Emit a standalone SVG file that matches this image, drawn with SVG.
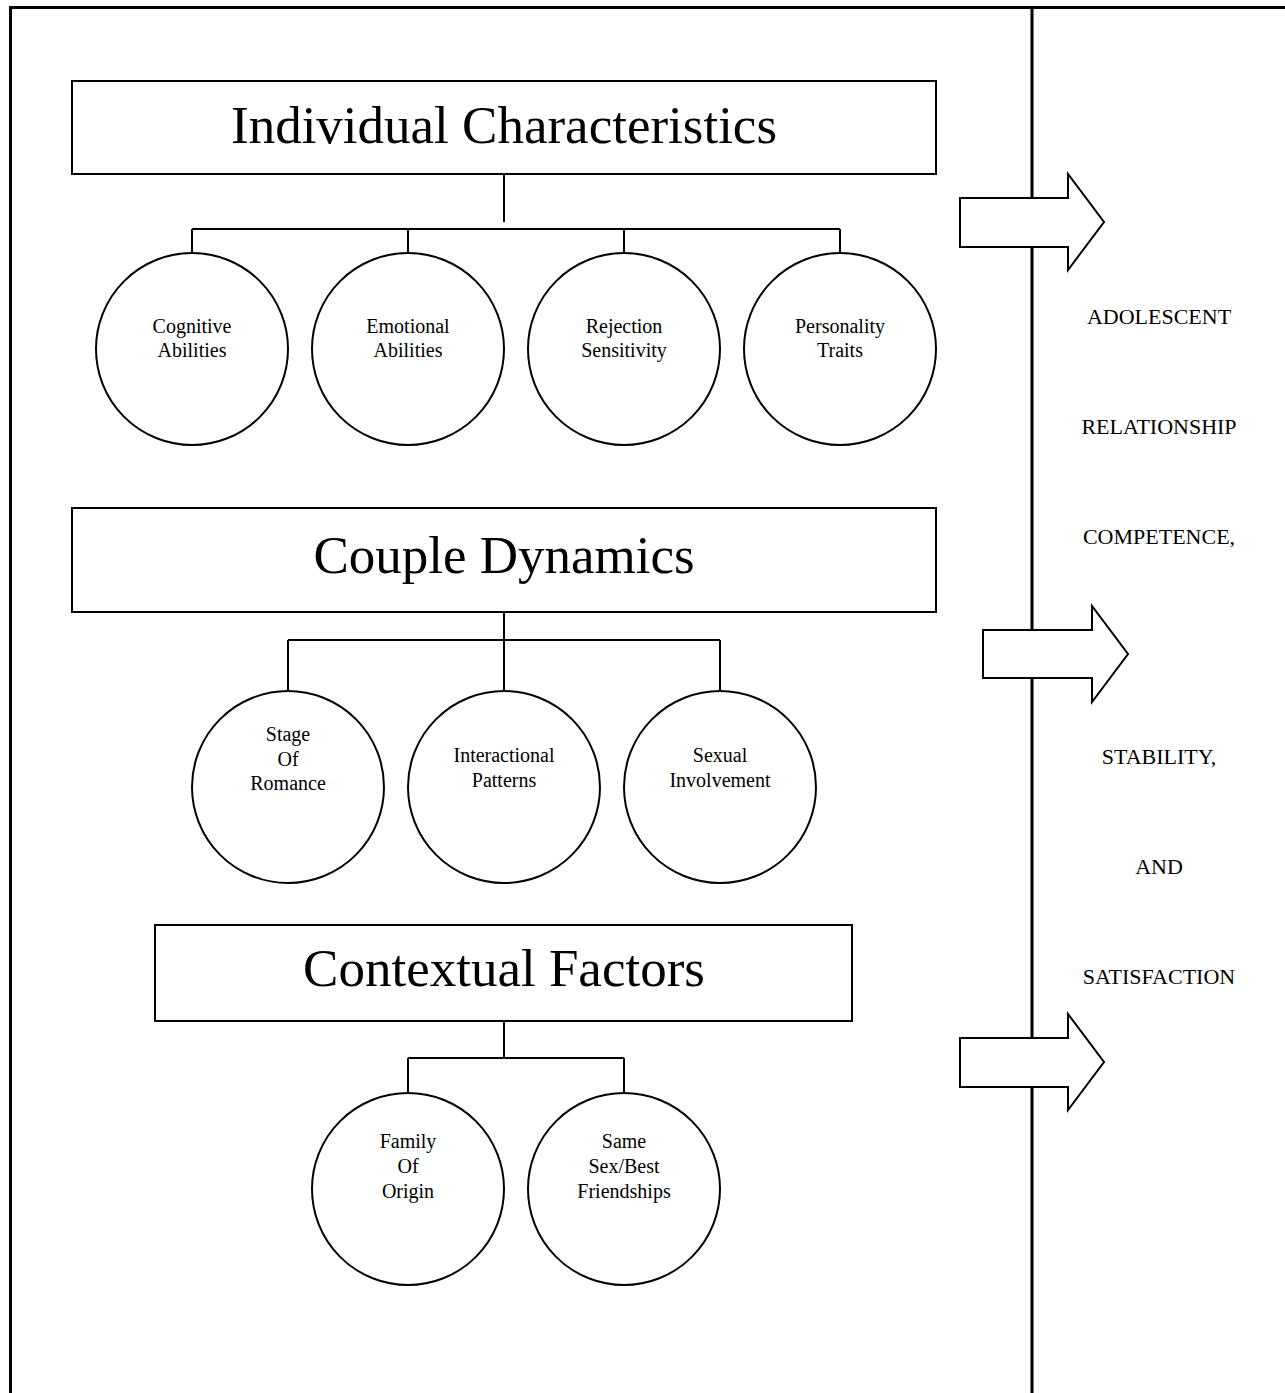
<svg xmlns="http://www.w3.org/2000/svg" width="1285" height="1393" viewBox="0 0 1285 1393">
<style>
.ln{stroke:#000;stroke-width:2;fill:none}
.bd{stroke:#000;stroke-width:3;fill:none}
.box{fill:#fff;stroke:#000;stroke-width:2}
.c{fill:#fff;stroke:#000;stroke-width:2}
.ar{fill:#fff;stroke:#000;stroke-width:2;stroke-linejoin:miter}
text{font-family:"Liberation Serif","Times New Roman",serif;fill:#000;text-anchor:middle}
.h{font-size:53px}
.s{font-size:20px}
.r{font-size:22px}
</style>
<rect width="1285" height="1393" fill="#fff"/>
<g id="frame">
<path class="bd" d="M10.5,1393 V7.5 H1285"/>
<path class="bd" d="M1032,7.5 V198 M1032,247 V630 M1032,678 V1038 M1032,1087 V1393"/>
</g>
<g id="connectors">
<path class="ln" d="M504,174 V222 M192,229 H840 M192,229 V253 M408,229 V253 M624,229 V253 M840,229 V253"/>
<path class="ln" d="M504,612 V691 M288,640 H720 M288,640 V691 M720,640 V691"/>
<path class="ln" d="M504,1021 V1058 M408,1058 H624 M408,1058 V1093 M624,1058 V1093"/>
</g>
<g id="individual">
<rect class="box" x="72" y="81" width="864" height="93"/>
<text class="h" x="504" y="143">Individual Characteristics</text>
</g>
<g id="cognitive"><circle class="c" cx="192" cy="349" r="96"/><text class="s" x="192" y="333">Cognitive</text><text class="s" x="192" y="357">Abilities</text></g>
<g id="emotional"><circle class="c" cx="408" cy="349" r="96"/><text class="s" x="408" y="333">Emotional</text><text class="s" x="408" y="357">Abilities</text></g>
<g id="rejection"><circle class="c" cx="624" cy="349" r="96"/><text class="s" x="624" y="333">Rejection</text><text class="s" x="624" y="357">Sensitivity</text></g>
<g id="personality"><circle class="c" cx="840" cy="349" r="96"/><text class="s" x="840" y="333">Personality</text><text class="s" x="840" y="357">Traits</text></g>
<g id="couple">
<rect class="box" x="72" y="508" width="864" height="104"/>
<text class="h" x="504" y="573">Couple Dynamics</text>
</g>
<g id="stage"><circle class="c" cx="288" cy="787" r="96"/><text class="s" x="288" y="741">Stage</text><text class="s" x="288" y="766">Of</text><text class="s" x="288" y="790">Romance</text></g>
<g id="interactional"><circle class="c" cx="504" cy="787" r="96"/><text class="s" x="504" y="762">Interactional</text><text class="s" x="504" y="787">Patterns</text></g>
<g id="sexual"><circle class="c" cx="720" cy="787" r="96"/><text class="s" x="720" y="762">Sexual</text><text class="s" x="720" y="787">Involvement</text></g>
<g id="contextual">
<rect class="box" x="155" y="925" width="697" height="96"/>
<text class="h" x="504" y="986">Contextual Factors</text>
</g>
<g id="family"><circle class="c" cx="408" cy="1189" r="96"/><text class="s" x="408" y="1148">Family</text><text class="s" x="408" y="1173">Of</text><text class="s" x="408" y="1198">Origin</text></g>
<g id="friends"><circle class="c" cx="624" cy="1189" r="96"/><text class="s" x="624" y="1148">Same</text><text class="s" x="624" y="1173">Sex/Best</text><text class="s" x="624" y="1198">Friendships</text></g>
<g id="arrow1"><path class="ar" d="M960,198 H1068 V174 L1104,222 L1068,270 V247 H960 Z"/></g>
<g id="arrow2"><path class="ar" d="M983,630 H1092 V606 L1128,654 L1092,702 V678 H983 Z"/></g>
<g id="arrow3"><path class="ar" d="M960,1038 H1068 V1014 L1104,1062 L1068,1110 V1087 H960 Z"/></g>
<g id="outcome">
<text class="r" x="1159" y="324">ADOLESCENT</text>
<text class="r" x="1159" y="434">RELATIONSHIP</text>
<text class="r" x="1159" y="544">COMPETENCE,</text>
<text class="r" x="1159" y="764">STABILITY,</text>
<text class="r" x="1159" y="874">AND</text>
<text class="r" x="1159" y="984">SATISFACTION</text>
</g>
</svg>
